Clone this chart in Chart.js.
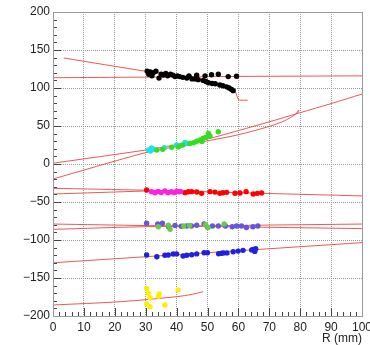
<!DOCTYPE html>
<html>
<head>
<meta charset="utf-8">
<script src="https://cdn.jsdelivr.net/npm/chart.js@4.4.1/dist/chart.umd.min.js"></script>
<style>
  html, body { margin: 0; padding: 0; background: #fff; }
  #wrap { width: 370px; height: 345px; position: relative; }
</style>
</head>
<body>
<div id="wrap"><canvas id="chart"></canvas></div>
<script>
// Axis ranges / ticks
const xRange = [0, 100];
const yRange = [-200, 200];
const xStep = 10;
const yStep = 50;
const xTitle = 'R (mm)';

// Hits (R, value)
const blackPts = [[30.5,122],[31,118],[31.5,121],[32,116],[32.5,120],[33.3,122],[34.3,113],[35,118],[35.7,117],[36.5,119],
  [37.1,116],[38,118],[38.8,117],[39.5,115],[40.3,116],[41,115],[42,114],[43.3,113],[44,115],[45,112],[46,112],
  [47,111],[48.6,110],[49.5,108.5],[50.3,107],[51.5,106],[52.5,105.5],[54,104],[55,103],[56.2,101.5],[57,100],
  [57.8,98],[58.3,96.5]];
const blackUpper = [[44,116],[46.5,117],[49.2,116],[51.3,117.5],[53.5,118],[56.7,115],[59.4,115.5]];
const cyanPts = [[30.9,18.4],[31.5,17],[31.9,21],[32.5,19.5],[36,21.5],[40,25],[41,24],[42.7,28.5],[43.3,27]];
const greenPts = [[33.6,18.5],[35.5,19.3],[38.4,22],[40.5,22.5],[42,25],[44.3,27],[45.5,28],[46.5,30],[47.6,31.6],
  [48.2,29.5],[48.6,33.8],[49.5,35],[50.3,40.3],[50.8,36.5],[53.5,42.5]];
const redPts = [[30.3,-34.2],[42.7,-37.7],[43.8,-36.5],[44.9,-36.4],[46.5,-36.8],[48.1,-38.6],[50.8,-36.4],[52.4,-37],
  [54,-38.6],[55,-37.8],[56.2,-37.3],[58.9,-38.4],[60.5,-38.2],[62.5,-36.4],[64.8,-39.5],[66.1,-38.6],[67.5,-38]];
const magentaPts = [[31.9,-36.4],[33,-37.8],[34,-36.2],[35,-37.6],[36.2,-35.6],[37.2,-37.8],[38.3,-36.5],[39.2,-37.6],
  [40,-35.8],[40.7,-36.6],[41.3,-36.2]];
const slatePts = [[30.3,-78],[33.9,-79],[35.4,-78],[37.4,-82.5],[39.5,-81],[41.5,-82],[43.3,-81.5],[44.8,-81.5],
  [46.5,-80.5],[48.9,-79],[50,-83],[51.6,-81.5],[53.5,-81.5],[55.8,-81.5],[58,-82.5],[59.4,-81.5],[61,-81.5],
  [62.6,-83.5],[64.7,-82.5],[66.3,-81.5]];
const greenPts2 = [[34.1,-82.5],[37.3,-80.5],[37.9,-86],[42.3,-81.5],[44.2,-81],[49.3,-80],[50.2,-83.5],[55.4,-79]];
const bluePts = [[30.3,-119.7],[33.6,-122],[36.2,-120],[37.3,-119.7],[38.9,-118.5],[40,-118.3],[42.1,-121],[43.3,-120],
  [44.9,-119.5],[46.5,-118.3],[48.9,-116.7],[50,-116.7],[53.6,-118],[54.6,-117.5],[55.2,-117],[56.3,-117],
  [58.3,-115.4],[59.9,-114.6],[61.5,-113.6],[64.3,-113],[64.8,-112.3],[65.3,-115],[65.6,-111.5]];
const yellowPts = [[30.3,-163.6],[30.8,-170],[31.4,-176],[30.3,-184],[31.4,-187.7],[34.4,-171],[34.1,-174],
  [36.2,-185.5],[40.5,-165.8]];

// Track fits
const trackA = [[3.5,139.5],[30,122],[35,119.5],[40,117],[45,114],[50,109],[55,103],[57.5,99],[58.9,96],[59.4,90.8],[60,85],[60.5,84],[63,84]];
const trackB = [[0,113.5],[30,114.3],[60,115.2],[100,116]];
const trackC = [[0,1],[30,18.4],[40,25.5],[50,33],[60,44],[70,55.5],[80,67.5],[90,79.5],[100,92]];
const trackD = [[0,-19.7],[30,15],[40,23],[50,30.5],[60,38.5],[70,49.5],[75,57],[78.5,65.5],[79.5,71],[79.2,67.5]];
const trackE1 = [[0,-32],[30,-34.5],[67,-38.5],[100,-42]];
const trackE2 = [[0,-39.5],[30,-35.5]];
const trackF1 = [[0,-79],[30,-81],[100,-85]];
const trackF2 = [[0,-86],[30,-82.5],[100,-79]];
const trackG = [[0,-130],[30,-122],[65,-112.8],[100,-103.5]];
const trackH = [[0,-185.5],[21.7,-181.2],[40,-174.6],[45,-171.5],[48.6,-168]];

const FONT = "'Liberation Sans', Arial, Helvetica, sans-serif";
const toXY = arr => arr.map(p => ({ x: p[0], y: p[1] }));

const pointSet = (pts, color, r) => ({
  data: toXY(pts),
  showLine: false,
  pointRadius: r || 2.7,
  pointBackgroundColor: color,
  pointBorderColor: color,
  pointBorderWidth: 0
});
const lineSet = pts => ({
  data: toXY(pts),
  showLine: true,
  borderColor: 'rgba(232,70,70,0.9)',
  borderWidth: 1,
  pointRadius: 0,
  tension: 0.3,
  fill: false
});

// inside ticks + frame, ROOT style
const framePlugin = {
  id: 'frame',
  afterDatasetsDraw(chart) {
    const { ctx, chartArea: a, scales: { x, y } } = chart;
    ctx.save();
    ctx.strokeStyle = '#444';
    ctx.lineWidth = 1;
    ctx.beginPath();
    for (let v = xRange[0]; v <= xRange[1]; v += 2) {
      const px = Math.round(x.getPixelForValue(v)) + 0.5;
      const len = v % xStep === 0 ? 8 : 4;
      ctx.moveTo(px, a.bottom);
      ctx.lineTo(px, a.bottom - len);
    }
    for (let v = yRange[0]; v <= yRange[1]; v += 10) {
      const py = Math.round(y.getPixelForValue(v)) + 0.5;
      const len = v % yStep === 0 ? 8 : 4;
      ctx.moveTo(a.left, py);
      ctx.lineTo(a.left + len, py);
    }
    ctx.stroke();
    ctx.strokeStyle = '#999';
    ctx.strokeRect(Math.round(a.left) + 0.5, Math.round(a.top) + 0.5,
      Math.round(a.right - a.left), Math.round(a.bottom - a.top));
    ctx.restore();
  }
};

new Chart(document.getElementById('chart'), {
  type: 'scatter',
  data: {
    datasets: [
      pointSet(blackPts, '#000'),
      pointSet(blackUpper, '#000'),
      pointSet(greenPts, '#33dd22'),
      pointSet(cyanPts, '#22e0ee'),
      pointSet(magentaPts, '#ff22dd'),
      pointSet(redPts, '#ff0000'),
      pointSet(greenPts2, '#66cc44'),
      pointSet(slatePts, '#6655dd'),
      pointSet(bluePts, '#2020dd'),
      pointSet(yellowPts, '#ffee00'),
      lineSet(trackA), lineSet(trackB), lineSet(trackC), lineSet(trackD),
      lineSet(trackE1), lineSet(trackE2), lineSet(trackF1), lineSet(trackF2),
      lineSet(trackG), lineSet(trackH)
    ]
  },
  options: {
    responsive: true,
    maintainAspectRatio: false,
    animation: false,
    layout: { padding: { left: 0, right: 8, top: 12, bottom: 0 } },
    plugins: { legend: { display: false }, tooltip: { enabled: false } },
    scales: {
      x: {
        type: 'linear',
        min: xRange[0], max: xRange[1],
        afterFit: s => { s.height = 29; s.paddingLeft = 0; s.paddingRight = 0; },
        ticks: {
          stepSize: xStep, padding: 4, maxRotation: 0, autoSkip: false,
          color: '#222', font: { family: FONT, size: 12 }
        },
        grid: { color: '#999', drawTicks: false, tickLength: 0 },
        border: { display: false, dash: [1, 1] },
        title: {
          display: true, text: xTitle, align: 'end', color: '#222',
          font: { family: FONT, size: 12, lineHeight: 1 }, padding: { top: 0, bottom: 0 }
        }
      },
      y: {
        type: 'linear',
        min: yRange[0], max: yRange[1],
        afterFit: s => { s.width = 53; s.paddingTop = 0; s.paddingBottom = 0; },
        ticks: {
          stepSize: yStep, padding: 3, autoSkip: false,
          color: '#222', font: { family: FONT, size: 12 },
          callback: v => String(v).replace('-', '\u2212')
        },
        grid: { color: '#999', drawTicks: false, tickLength: 0 },
        border: { display: false, dash: [1, 1] }
      }
    }
  },
  plugins: [framePlugin]
});
</script>
</body>
</html>
